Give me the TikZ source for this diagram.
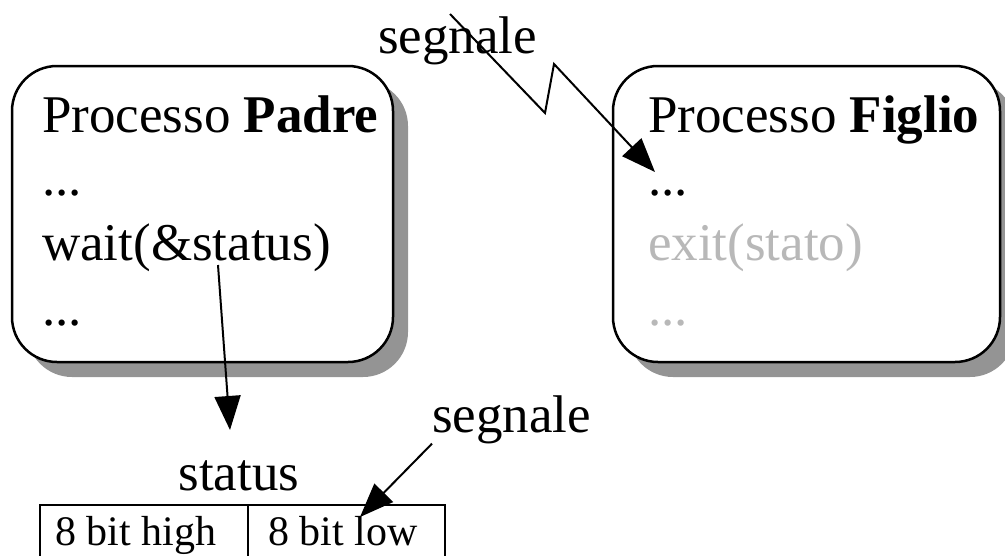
\documentclass[tikz,border=0pt]{standalone}
\usepackage{fontspec}
\setmainfont{Liberation Serif}
\usetikzlibrary{arrows.meta,shadows}

\begin{document}
\begin{tikzpicture}[x=1pt,y=-1pt]
	\tikzset{
		procbox/.style={draw, line width=2.5pt, rounded corners=45pt, fill=white,
			drop shadow={shadow xshift=15pt, shadow yshift=-15pt, fill=black!42, opacity=1}},
		big/.style={anchor=base west, inner sep=0pt, font=\fontsize{53}{60}\selectfont},
		small/.style={anchor=base west, inner sep=0pt, font=\fontsize{42}{48}\selectfont},
		faded/.style={text=black!28},
		sig/.style={line width=2pt, -{Triangle[length=34pt,width=26pt]}}
	}
	\useasboundingbox (0,0) rectangle (1005,555);
	
	% the two processes
	\node[procbox, minimum width=381pt, minimum height=296pt] (padre) at (202.5,214) {};
	\node[procbox, minimum width=387pt, minimum height=296pt] (figlio) at (806.5,214) {};
	
	% text of the parent
	\node[big] (ptitle) at (42,132) {Processo \textbf{Padre}};
	\node[big] (pdots) at (42,195) {...};
	\node[big] (pwait) at (42,260) {wait(\&status)};
	\node[big] (pend) at (42,325) {...};
	
	% text of the child
	\node[big] (ftitle) at (648,132) {Processo \textbf{Figlio}};
	\node[big] (fdots) at (648,195) {...};
	\node[big, faded] (fexit) at (648,260) {exit(stato)};
	\node[big, faded] (fend) at (648,325) {...};
	
	% signal to the child
	\node[big] (sigtop) at (378,53) {segnale};
	\coordinate (zstart) at (450,14);
	\coordinate (zlow) at (545,113);
	\coordinate (zhigh) at (554,64);
	\coordinate (ztip) at (655,172);
	\draw[sig] (zstart) -- (zlow) -- (zhigh) -- (ztip);
	
	% status word
	\node[big, anchor=base] (stlabel) at (239,490) {status};
	\coordinate (wstart) at (218,265);
	\coordinate (wtip) at (230,430);
	\draw[sig] (wstart) -- (wtip);
	
	\node[small] (high) at (55,545) {8 bit high};
	\node[small] (low) at (268,545) {8 bit low};
	\draw[line width=1.8pt] (40,556) -- (40,505) -- (445,505) -- (445,556);
	\draw[line width=1.8pt] (248,505) -- (248,556);
	
	% signal in the low byte
	\node[big] (sigbot) at (432,432) {segnale};
	\coordinate (lowtip) at (360,517);
	\draw[sig] (sigbot.south west) -- (lowtip);
\end{tikzpicture}
\end{document}
